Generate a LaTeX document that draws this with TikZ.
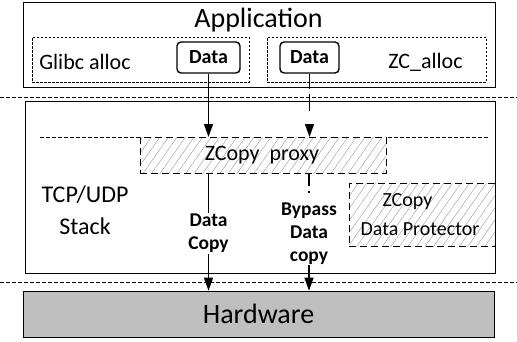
\documentclass[tikz,border=0pt]{standalone}
\usepackage{fontspec}
\setmainfont{Carlito}
\usetikzlibrary{arrows.meta,patterns.meta}

\tikzset{
  layer/.style={draw, line width=0.9pt, inner sep=0pt, anchor=north west},
  allocbox/.style={draw, line width=0.6pt, dash pattern=on 2.5pt off 1.5pt, inner sep=0pt, anchor=north west},
  sepline/.style={line width=0.6pt, dash pattern=on 4pt off 2pt},
  hatchbox/.style={draw, line width=0.8pt, dash pattern=on 7pt off 4pt, inner sep=0pt, anchor=north west,
    preaction={fill=white}, pattern={Lines[angle=55,distance=7pt,line width=0.4pt]}, pattern color=gray!80},
  databox/.style={draw, line width=1.4pt, rounded corners=4pt, minimum height=31pt, inner sep=0pt,
    font=\fontsize{20}{22}\selectfont\bfseries},
  flow/.style={line width=1.3pt, -{Triangle[length=13pt,width=9pt]}},
  plain/.style={line width=1.3pt},
  lbl/.style={font=\fontsize{19.5}{23}\selectfont\bfseries, align=center, inner sep=1pt},
  big/.style={font=\fontsize{28}{32}\selectfont},
  mid/.style={font=\fontsize{22}{32}\selectfont, align=center},
  stk/.style={font=\fontsize{24}{31.5}\selectfont, align=center},
  prt/.style={font=\fontsize{20}{28}\selectfont},
}

\begin{document}
\begin{tikzpicture}[x=1pt,y=-1pt]
  \useasboundingbox (0,0) rectangle (517,341);

  % application layer
  \node[layer, minimum width=472.5pt, minimum height=85.5pt] (app) at (22.5,1.5) {};
  \node[big] (apptitle) at (258.5,20) {Application};
  \node[allocbox, minimum width=217pt, minimum height=45pt] (glibc) at (32,37) {};
  \node[allocbox, minimum width=219pt, minimum height=45pt] (zc) at (267,37) {};
  \node[mid] (glibctxt) at (85,62) {Glibc alloc};
  \node[mid] (zctxt) at (425.5,62) {ZC\_alloc};
  \node[databox, minimum width=63pt] (data1) at (208.5,57.5) {Data};
  \node[databox, minimum width=59pt] (data2) at (309.5,57.5) {Data};

  % layer separators
  \coordinate (s1a) at (0,97);   \coordinate (s1b) at (517,97);
  \coordinate (s2a) at (0,282.5); \coordinate (s2b) at (517,282.5);
  \draw[sepline] (s1a) -- (s1b);
  \draw[sepline] (s2a) -- (s2b);

  % protocol stack
  \node[layer, minimum width=469.7pt, minimum height=172pt] (stack) at (25,101) {};
  \coordinate (p1) at (40,137); \coordinate (p2) at (488,137);
  \draw[sepline] (p1) -- (p2);
  \node[hatchbox, minimum width=246pt, minimum height=36pt] (proxy) at (140,137) {};
  \node[mid] (proxytxt) at (262,155) {ZCopy\ \ proxy};
  \node[stk] (stacktxt) at (85,210) {TCP/UDP\\Stack};
  \node[hatchbox, minimum width=145.7pt, minimum height=63pt] (prot) at (349,183) {};
  \node[prt] (prottxt1) at (407.5,202) {ZCopy};
  \node[prt] (prottxt2) at (420,229.5) {Data Protector};

  % hardware
  \node[draw, line width=0.8pt, fill=gray!50, inner sep=0pt, anchor=north west,
        minimum width=471.6pt, minimum height=46.3pt] (hw) at (22.7,290.7) {};
  \node[big] (hwtxt) at (258.5,314) {Hardware};

  % data paths
  \node[lbl] (lbl1) at (208.5,233.4) {Data\\Copy};
  \node[lbl] (lbl2) at (309,233.4) {Bypass\\Data\\copy};

  \draw[flow] (data1.south) -- (data1.south |- proxy.north);
  \draw[plain] (data1.south |- proxy.south) -- (lbl1.north);
  \draw[flow] (lbl1.south) -- (lbl1.south |- hw.north);

  \draw[flow, dash pattern=on 15pt off 5pt on 17pt off 40pt] (data2.south) -- (data2.south |- proxy.north);
  \draw[plain, dash pattern=on 13pt off 5pt on 1.5pt off 100pt] (lbl2.north |- proxy.south) -- (lbl2.north);
  \draw[flow] (lbl2.south) -- (lbl2.south |- hw.north);
\end{tikzpicture}
\end{document}
